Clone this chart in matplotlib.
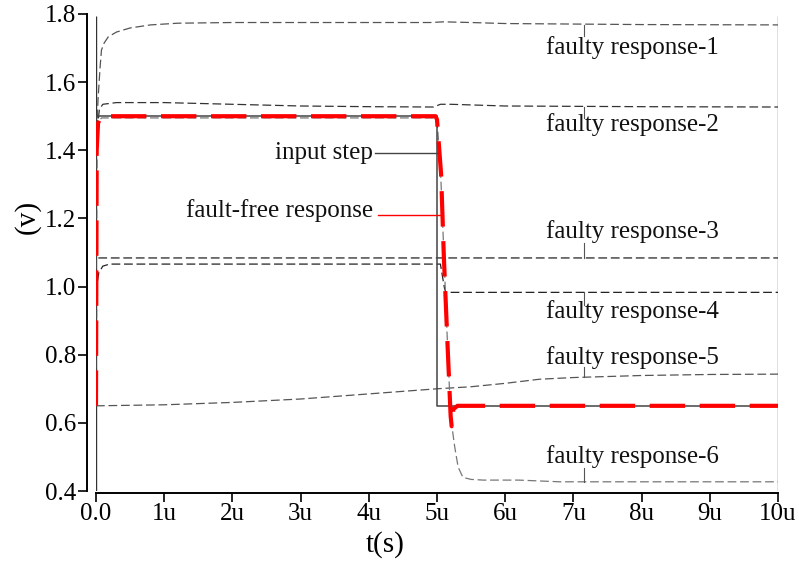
import matplotlib
matplotlib.use("Agg")
import matplotlib.pyplot as plt

plt.rcParams['font.family'] = ['Liberation Serif', 'DejaVu Serif']

# ---- data (time in microseconds, voltage in V) ----
t_step = [0.0, 0.0, 5.0, 5.0, 10.0]
v_step = [0.65, 1.5, 1.5, 0.65, 0.65]

t_ff = [0.0, 0.01, 0.03, 0.08, 4.98, 5.0, 5.06, 5.1, 5.15, 5.2, 5.215, 5.24, 5.3, 10.0]
v_ff = [0.65, 1.40, 1.48, 1.50, 1.50, 1.49, 1.33, 1.09, 0.85, 0.62, 0.59, 0.64, 0.65, 0.65]

t_f1 = [0.0, 0.01, 0.03, 0.06, 0.08, 0.12, 0.18, 0.3, 0.5, 0.8, 1.2, 2, 3, 4, 4.9, 5.1, 5.5, 6, 8, 10]
v_f1 = [0.65, 1.45, 1.55, 1.644, 1.694, 1.715, 1.733, 1.747, 1.759, 1.768, 1.773, 1.775, 1.775,
        1.775, 1.775, 1.777, 1.775, 1.772, 1.769, 1.768]

t_f2 = [0.0, 0.01, 0.05, 0.1, 0.3, 1, 2, 3, 4, 4.95, 5.05, 5.2, 6, 8, 10]
v_f2 = [0.65, 1.45, 1.52, 1.535, 1.54, 1.54, 1.535, 1.53, 1.528, 1.527, 1.535, 1.535, 1.53, 1.528, 1.527]

t_f3 = [0.0, 0.003, 10.0]
v_f3 = [0.65, 1.084, 1.084]

t_f4 = [0.0, 0.01, 0.04, 0.1, 0.2, 5.05, 5.08, 5.11, 5.13, 10.0]
v_f4 = [0.65, 1.00, 1.04, 1.06, 1.066, 1.066, 1.03, 0.995, 0.983, 0.983]

t_f5 = [0.0, 1, 2, 3, 4, 5, 5.5, 6, 6.5, 7, 7.5, 8, 9, 10]
v_f5 = [0.65, 0.653, 0.66, 0.67, 0.685, 0.70, 0.706, 0.716, 0.728, 0.733, 0.736, 0.739, 0.742, 0.743]

t_f6 = [0.0, 0.01, 0.03, 0.08, 4.98, 5.0, 5.05, 5.1, 5.15, 5.2, 5.22, 5.26, 5.31, 5.38, 5.5, 5.68,
        6.2, 6.8, 10.0]
v_f6 = [0.65, 1.40, 1.48, 1.495, 1.495, 1.49, 1.35, 1.10, 0.85, 0.62, 0.588, 0.529, 0.47, 0.44,
        0.434, 0.432, 0.432, 0.427, 0.427]

x_ticks = [0, 1, 2, 3, 4, 5, 6, 7, 8, 9, 10]
x_ticklabels = ["0.0", "1u", "2u", "3u", "4u", "5u", "6u", "7u", "8u", "9u", "10u"]
y_ticks = [0.4, 0.6, 0.8, 1.0, 1.2, 1.4, 1.6, 1.8]
y_ticklabels = ["0.4", "0.6", "0.8", "1.0", "1.2", "1.4", "1.6", "1.8"]

faulty_labels = ["faulty response-1", "faulty response-2", "faulty response-3",
                 "faulty response-4", "faulty response-5", "faulty response-6"]
faulty_label_y = [1.703, 1.477, 1.163, 0.928, 0.793, 0.5]
faulty_leader_y0 = [1.768, 1.527, 1.084, 0.983, 0.735, 0.427]
faulty_leader_y1 = [1.735, 1.495, 1.128, 0.946, 0.764, 0.467]
label_x = 7.86
leader_x = 7.16

# ---- figure ----
fig = plt.figure(figsize=(7.99, 5.70), dpi=100)
ax = fig.add_axes([96/799, 1 - 491/570, (778-96)/799, (491-14)/570])

ax.set_xlim(0, 10)
ax.set_ylim(0.4, 1.8)

# plot border lines
ax.plot([0, 0], [0.4, 1.795], color='#333333', lw=1.0, solid_capstyle='butt')
ax.plot([10, 10], [0.4, 1.795], color='#666666', lw=1.0, solid_capstyle='butt')

dash_style = (0, (7, 3))
faulty = [(t_f1, v_f1, '#555555'), (t_f2, v_f2, '#333333'), (t_f3, v_f3, '#222222'),
          (t_f4, v_f4, '#222222'), (t_f5, v_f5, '#555555'), (t_f6, v_f6, '#777777')]
for tt, vv, c in faulty:
    ax.plot(tt, vv, color=c, lw=0.9, linestyle=dash_style)

ax.plot(t_step, v_step, color='#444444', lw=1.1)
ax.plot(t_ff, v_ff, color='#ff0000', lw=3.0, linestyle=(0, (8.5, 3.5)))

# labels for faulty responses
for lab, ly, y0, y1 in zip(faulty_labels, faulty_label_y, faulty_leader_y0, faulty_leader_y1):
    ax.plot([leader_x, leader_x], [y0, y1], color='#555555', lw=0.8)
    ax.text(label_x, ly, lab, ha='center', va='center', fontsize=18, color='#111111')

# input step label
ax.text(4.06, 1.392, "input step", ha='right', va='center', fontsize=18, color='#111111')
ax.plot([4.09, 5.0], [1.392, 1.392], color='#444444', lw=1.0)
ax.text(4.06, 1.222, "fault-free response", ha='right', va='center', fontsize=18, color='#111111')
ax.plot([4.13, 5.05], [1.21, 1.21], color='#ff0000', lw=1.0)

# axes styling
for s in ['top', 'right']:
    ax.spines[s].set_visible(False)
ax.spines['left'].set_position(('outward', 6.5))
ax.spines['bottom'].set_position(('outward', 1.5))
ax.spines['left'].set_linewidth(1.4)
ax.spines['bottom'].set_linewidth(1.4)

ax.set_xticks(x_ticks)
ax.set_xticklabels(x_ticklabels)
ax.set_yticks(y_ticks)
ax.set_yticklabels(y_ticklabels)
ax.tick_params(axis='both', direction='out', length=6.5, width=1.2, labelsize=18, pad=1)

ax.text(0.424, -0.113, "t(s)", transform=ax.transAxes, ha='center', va='center', fontsize=21)
ax.text(-0.101, 0.574, "(v)", transform=ax.transAxes, ha='center', va='center', fontsize=21,
        rotation=90)

fig.savefig("out.png", dpi=100)
